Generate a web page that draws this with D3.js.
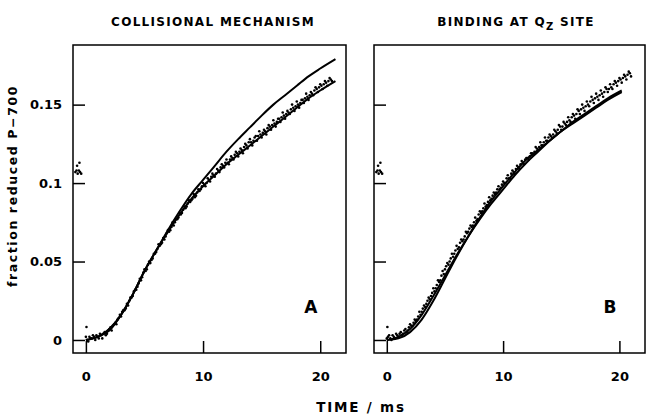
<!DOCTYPE html>
<html>
<head>
<meta charset="utf-8">
<script src="https://cdn.jsdelivr.net/npm/d3@7"></script>
<style>
  body { margin: 0; background: #fff; }
  svg { display: block; }
  .axis text { font-family: "DejaVu Sans", sans-serif; font-weight: bold; font-size: 13px; fill: #000; }
  .axis line { stroke: #000; stroke-width: 1.5; }
  .axis path { display: none; }
</style>
</head>
<body>
<svg id="chart" width="646" height="416"></svg>
<script>
// measured traces: first pass at t = 0, 0.2, ... 21.0 ms, second pass at t = 0.1, 0.3, ... 20.9 ms
var dataA = [0.002,-0.001,0.001,0.003,0.000,0.002,0.004,0.001,0.005,0.004,
  0.007,0.006,0.010,0.010,0.014,0.015,0.019,0.020,0.022,0.027,
  0.028,0.032,0.034,0.039,0.040,0.045,0.045,0.050,0.051,0.055,
  0.056,0.061,0.061,0.065,0.066,0.070,0.070,0.075,0.075,0.077,
  0.081,0.081,0.085,0.085,0.089,0.089,0.093,0.092,0.096,0.096,
  0.100,0.098,0.103,0.101,0.106,0.104,0.109,0.107,0.112,0.110,
  0.115,0.112,0.117,0.115,0.120,0.117,0.122,0.119,0.125,0.122,
  0.128,0.124,0.129,0.127,0.133,0.129,0.134,0.131,0.137,0.134,
  0.140,0.136,0.141,0.139,0.145,0.141,0.146,0.144,0.150,0.146,
  0.152,0.148,0.153,0.151,0.157,0.153,0.158,0.156,0.161,0.158,
  0.163,0.160,0.165,0.162,0.167,0.165];
var dataA2 = [0.000,0.002,0.001,0.002,0.003,0.001,0.003,0.004,0.003,0.006,
  0.008,0.009,0.011,0.013,0.016,0.018,0.019,0.023,0.025,0.027,
  0.031,0.032,0.036,0.038,0.043,0.044,0.048,0.049,0.052,0.055,
  0.058,0.060,0.062,0.064,0.068,0.069,0.072,0.073,0.077,0.078,
  0.080,0.083,0.084,0.087,0.088,0.090,0.091,0.094,0.095,0.098,
  0.099,0.100,0.102,0.104,0.105,0.106,0.108,0.110,0.111,0.113,
  0.113,0.115,0.116,0.118,0.119,0.120,0.121,0.123,0.124,0.126,
  0.126,0.127,0.130,0.130,0.131,0.132,0.133,0.135,0.136,0.137,
  0.138,0.139,0.141,0.142,0.143,0.144,0.145,0.147,0.148,0.149,
  0.150,0.151,0.153,0.154,0.155,0.156,0.157,0.159,0.160,0.161,
  0.162,0.163,0.164,0.165,0.166];

var dataB = [0.001,0.003,0.000,0.002,0.004,0.002,0.005,0.004,0.007,0.006,
  0.010,0.009,0.013,0.013,0.018,0.018,0.022,0.023,0.027,0.028,
  0.033,0.033,0.038,0.038,0.044,0.045,0.049,0.050,0.055,0.055,
  0.060,0.059,0.064,0.064,0.069,0.069,0.073,0.073,0.078,0.077,
  0.082,0.082,0.087,0.086,0.091,0.090,0.094,0.094,0.098,0.097,
  0.101,0.100,0.105,0.103,0.108,0.106,0.111,0.109,0.114,0.112,
  0.116,0.115,0.119,0.118,0.123,0.121,0.126,0.124,0.129,0.127,
  0.131,0.129,0.134,0.132,0.137,0.134,0.139,0.137,0.142,0.139,
  0.144,0.141,0.147,0.144,0.150,0.146,0.152,0.149,0.155,0.151,
  0.157,0.153,0.159,0.155,0.161,0.158,0.163,0.160,0.165,0.162,
  0.167,0.164,0.169,0.166,0.171,0.168];
var dataB2 = [0.002,0.001,0.003,0.001,0.003,0.004,0.003,0.006,0.005,0.008,
  0.009,0.011,0.012,0.015,0.016,0.020,0.021,0.025,0.026,0.030,
  0.031,0.035,0.037,0.041,0.042,0.047,0.048,0.052,0.053,0.057,
  0.058,0.062,0.063,0.066,0.068,0.071,0.072,0.075,0.076,0.080,
  0.081,0.084,0.085,0.088,0.089,0.092,0.093,0.096,0.096,0.099,
  0.100,0.103,0.103,0.106,0.107,0.109,0.110,0.112,0.113,0.115,
  0.116,0.117,0.119,0.120,0.122,0.123,0.124,0.126,0.127,0.129,
  0.130,0.131,0.133,0.134,0.136,0.136,0.138,0.139,0.140,0.142,
  0.143,0.144,0.146,0.147,0.148,0.149,0.150,0.152,0.153,0.154,
  0.155,0.156,0.157,0.158,0.160,0.160,0.161,0.163,0.164,0.165,
  0.166,0.167,0.168,0.169,0.170];

// points recorded before the flash (plotted at negative time) and a stray point
var preTime = [-0.9, -0.8, -0.7, -0.6, -0.5, -0.4, -0.75, -0.55, 0.05];
var preValue = [0.107, 0.108, 0.106, 0.108, 0.107, 0.106, 0.111, 0.113, 0.0083];

// fitted curves
var fitTime = [0, 1, 2, 3, 4, 5, 6, 7, 8, 9, 10, 11, 12, 13, 14, 15, 16, 17, 18, 19, 20, 21.3];
var fitA1 = [0, 0.002, 0.007, 0.016, 0.029, 0.044, 0.057, 0.070, 0.082, 0.093, 0.102, 0.111, 0.120, 0.128, 0.1355, 0.143, 0.150, 0.156, 0.162, 0.168, 0.173, 0.179];
var fitA2 = [0, 0.002, 0.006, 0.016, 0.029, 0.044, 0.057, 0.069, 0.080, 0.090, 0.098, 0.105, 0.112, 0.118, 0.124, 0.130, 0.136, 0.142, 0.148, 0.154, 0.159, 0.165];
var fitTimeB = [0, 1, 2, 3, 4, 5, 6, 7, 8, 9, 10, 11, 12, 13, 14, 15, 16, 17, 18, 19, 20.2];
var fitB1 = [0, 0.001, 0.005, 0.013, 0.025, 0.039, 0.053, 0.066, 0.078, 0.089, 0.098, 0.107, 0.115, 0.121, 0.127, 0.133, 0.138, 0.143, 0.148, 0.153, 0.158];
var fitB2 = [0, 0.002, 0.007, 0.016, 0.028, 0.041, 0.054, 0.066, 0.077, 0.087, 0.096, 0.105, 0.113, 0.120, 0.127, 0.133, 0.139, 0.144, 0.149, 0.154, 0.159];

var xTicks = [0, 10, 20];
var yTicks = [0, 0.05, 0.1, 0.15];
var yTickLabels = ["0", "0.05", "0.1", "0.15"];

var svg = d3.select("#chart");
var top_ = 45, bottom = 353;

var y = d3.scaleLinear().domain([-0.0083, 0.188]).range([bottom, top_]);

function pairs(start, values) {
  return values.map(function(v, i) { return [start + i * 0.2, v]; });
}

function panel(left, right, data, data2, fits, fitTimes, letter, showYLabels) {
  var x = d3.scaleLinear().domain([-1.1, 22.2]).range([left, right]);
  var g = svg.append("g");

  g.append("rect")
    .attr("x", left).attr("y", top_)
    .attr("width", right - left).attr("height", bottom - top_)
    .attr("fill", "none").attr("stroke", "#000").attr("stroke-width", 1.5);

  g.append("g").attr("class", "axis")
    .attr("transform", "translate(" + left + ",0)")
    .call(d3.axisLeft(y).tickValues(yTicks).tickSize(-12).tickPadding(11)
      .tickFormat(function(d, i) { return showYLabels ? yTickLabels[i] : ""; }));

  g.append("g").attr("class", "axis")
    .attr("transform", "translate(0," + bottom + ")")
    .call(d3.axisBottom(x).tickValues(xTicks).tickSize(-12).tickPadding(19));

  var line = d3.line()
    .x(function(d) { return x(d[0]); })
    .y(function(d) { return y(d[1]); })
    .curve(d3.curveMonotoneX);

  fits.forEach(function(f, k) {
    g.append("path")
      .datum(fitTimes[k].map(function(t, i) { return [t, f[i]]; }))
      .attr("d", line)
      .attr("fill", "none").attr("stroke", "#000").attr("stroke-width", 2);
  });

  var pts = pairs(0, data).concat(pairs(0.1, data2))
    .concat(preTime.map(function(t, i) { return [t, preValue[i]]; }));

  g.selectAll(".pt")
    .data(pts)
    .enter().append("circle")
    .attr("cx", function(d) { return x(d[0]); })
    .attr("cy", function(d) { return y(d[1]); })
    .attr("r", 1.3).attr("fill", "#000");

  g.append("text")
    .attr("x", x(19.2)).attr("y", y(0.0175))
    .attr("text-anchor", "middle")
    .attr("font-family", "DejaVu Sans, sans-serif").attr("font-weight", "bold")
    .attr("font-size", 17).text(letter);
}

panel(73, 346, dataA, dataA2, [fitA1, fitA2], [fitTime, fitTime], "A", true);
panel(374, 645, dataB, dataB2, [fitB1, fitB2], [fitTimeB, fitTimeB], "B", false);

// titles
svg.append("text")
  .attr("x", 213).attr("y", 26).attr("text-anchor", "middle")
  .attr("font-family", "DejaVu Sans, sans-serif").attr("font-weight", "bold")
  .attr("font-size", 12).attr("letter-spacing", 1.3)
  .text("COLLISIONAL MECHANISM");

var t2 = svg.append("text")
  .attr("x", 516).attr("y", 26).attr("text-anchor", "middle")
  .attr("font-family", "DejaVu Sans, sans-serif").attr("font-weight", "bold")
  .attr("font-size", 12).attr("letter-spacing", 1.3);
t2.append("tspan").text("BINDING AT Q");
t2.append("tspan").attr("dy", 4).attr("font-size", 10).text("Z");
t2.append("tspan").attr("dy", -4).text(" SITE");

// axis titles
svg.append("text")
  .attr("transform", "translate(17,186) rotate(-90)")
  .attr("text-anchor", "middle")
  .attr("font-family", "DejaVu Sans, sans-serif").attr("font-weight", "bold")
  .attr("font-size", 12.5).attr("letter-spacing", 1.6)
  .text("fraction reduced P\u2212700");

svg.append("text")
  .attr("x", 361).attr("y", 412).attr("text-anchor", "middle")
  .attr("font-family", "DejaVu Sans, sans-serif").attr("font-weight", "bold")
  .attr("font-size", 13.5).attr("letter-spacing", 1.8)
  .text("TIME / ms");
</script>
</body>
</html>
